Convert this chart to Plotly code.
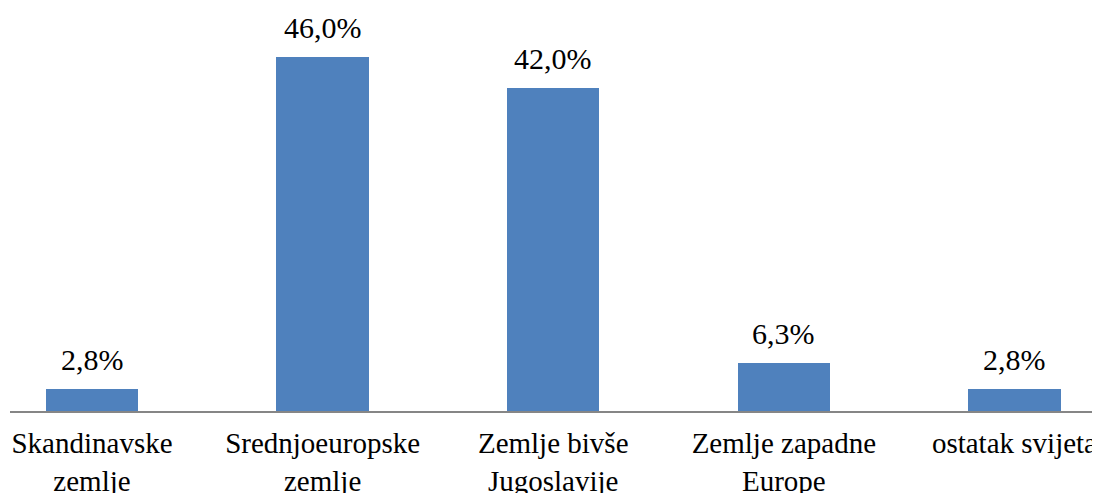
import plotly.graph_objects as go

categories = ["Skandinavske<br>zemlje", "Srednjoeuropske<br>zemlje", "Zemlje bivše<br>Jugoslavije",
              "Zemlje zapadne<br>Europe", "ostatak svijeta"]
values = [2.8, 46.0, 42.0, 6.3, 2.8]
value_labels = ["2,8%", "46,0%", "42,0%", "6,3%", "2,8%"]

FONT = "Liberation Serif"

fig = go.Figure()
fig.add_trace(go.Bar(
    x=list(range(len(categories))),
    y=values,
    width=0.4,
    marker=dict(color="#4F81BD", line=dict(width=0)),
    hoverinfo="skip",
))

for i, (v, t) in enumerate(zip(values, value_labels)):
    fig.add_annotation(x=i, y=v, text=t, showarrow=False, yanchor="bottom",
                       yshift=11, font=dict(family=FONT, size=30, color="#000000"))

fig.update_layout(
    width=1092, height=485,
    margin=dict(l=2, r=3, t=0, b=82, autoexpand=False),
    paper_bgcolor="white", plot_bgcolor="white",
    showlegend=False,
    bargap=0,
    xaxis=dict(
        tickmode="array",
        tickvals=list(range(len(categories))),
        ticktext=categories,
        range=[-0.3556, 4.358],
        automargin=False,
        showline=True, linecolor="#868686", linewidth=2,
        showgrid=False, zeroline=False,
        ticks="", ticklabelstandoff=5,
        tickfont=dict(family=FONT, size=29, color="#000000"),
    ),
    yaxis=dict(
        range=[0, 52.37],
        automargin=False,
        visible=False, showgrid=False, zeroline=False,
    ),
)

fig.write_html("out.html")
